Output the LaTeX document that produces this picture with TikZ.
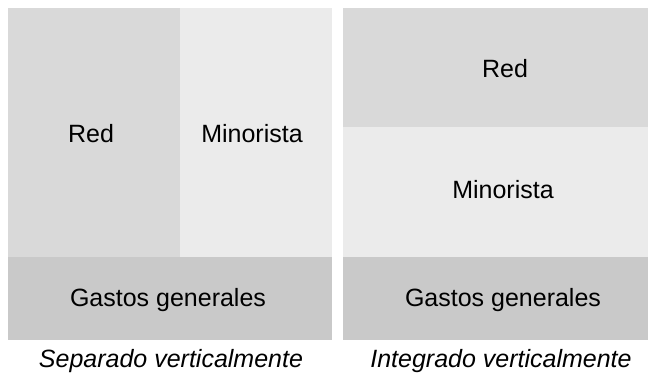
\documentclass[tikz,border=0pt]{standalone}
\usepackage{fontspec}
\setmainfont{Liberation Sans}
\usepackage{tikz}

\colorlet{fondored}{black!15}
\colorlet{fondomin}{black!8}
\colorlet{fondogastos}{black!21}

\begin{document}
\begin{tikzpicture}[x=1pt, y=-1pt,
    etiqueta/.style={anchor=base, inner sep=0pt, font=\fontsize{25}{30}\selectfont},
    pie/.style={etiqueta, font=\fontsize{25}{30}\selectfont\itshape}]
    \useasboundingbox (0,0) rectangle (650,378);
    % Separado verticalmente
    \fill[fondored] (8,8) rectangle (180,257);
    \fill[fondomin] (180,8) rectangle (332,257);
    \fill[fondogastos] (8,257) rectangle (332,340);
    \node[etiqueta] (redsep) at (91,142) {Red};
    \node[etiqueta] (minsep) at (252,142) {Minorista};
    \node[etiqueta] (gastsep) at (168,306) {Gastos generales};
    \node[pie] (titsep) at (171,367) {Separado verticalmente};
    
    % Integrado verticalmente
    \fill[fondored] (343,8) rectangle (648,127);
    \fill[fondomin] (343,127) rectangle (648,257);
    \fill[fondogastos] (343,257) rectangle (648,340);
    \node[etiqueta] (redint) at (505,77) {Red};
    \node[etiqueta] (minint) at (503,198) {Minorista};
    \node[etiqueta] (gastint) at (503,306) {Gastos generales};
    \node[pie] (titint) at (501,367) {Integrado verticalmente};
\end{tikzpicture}
\end{document}
